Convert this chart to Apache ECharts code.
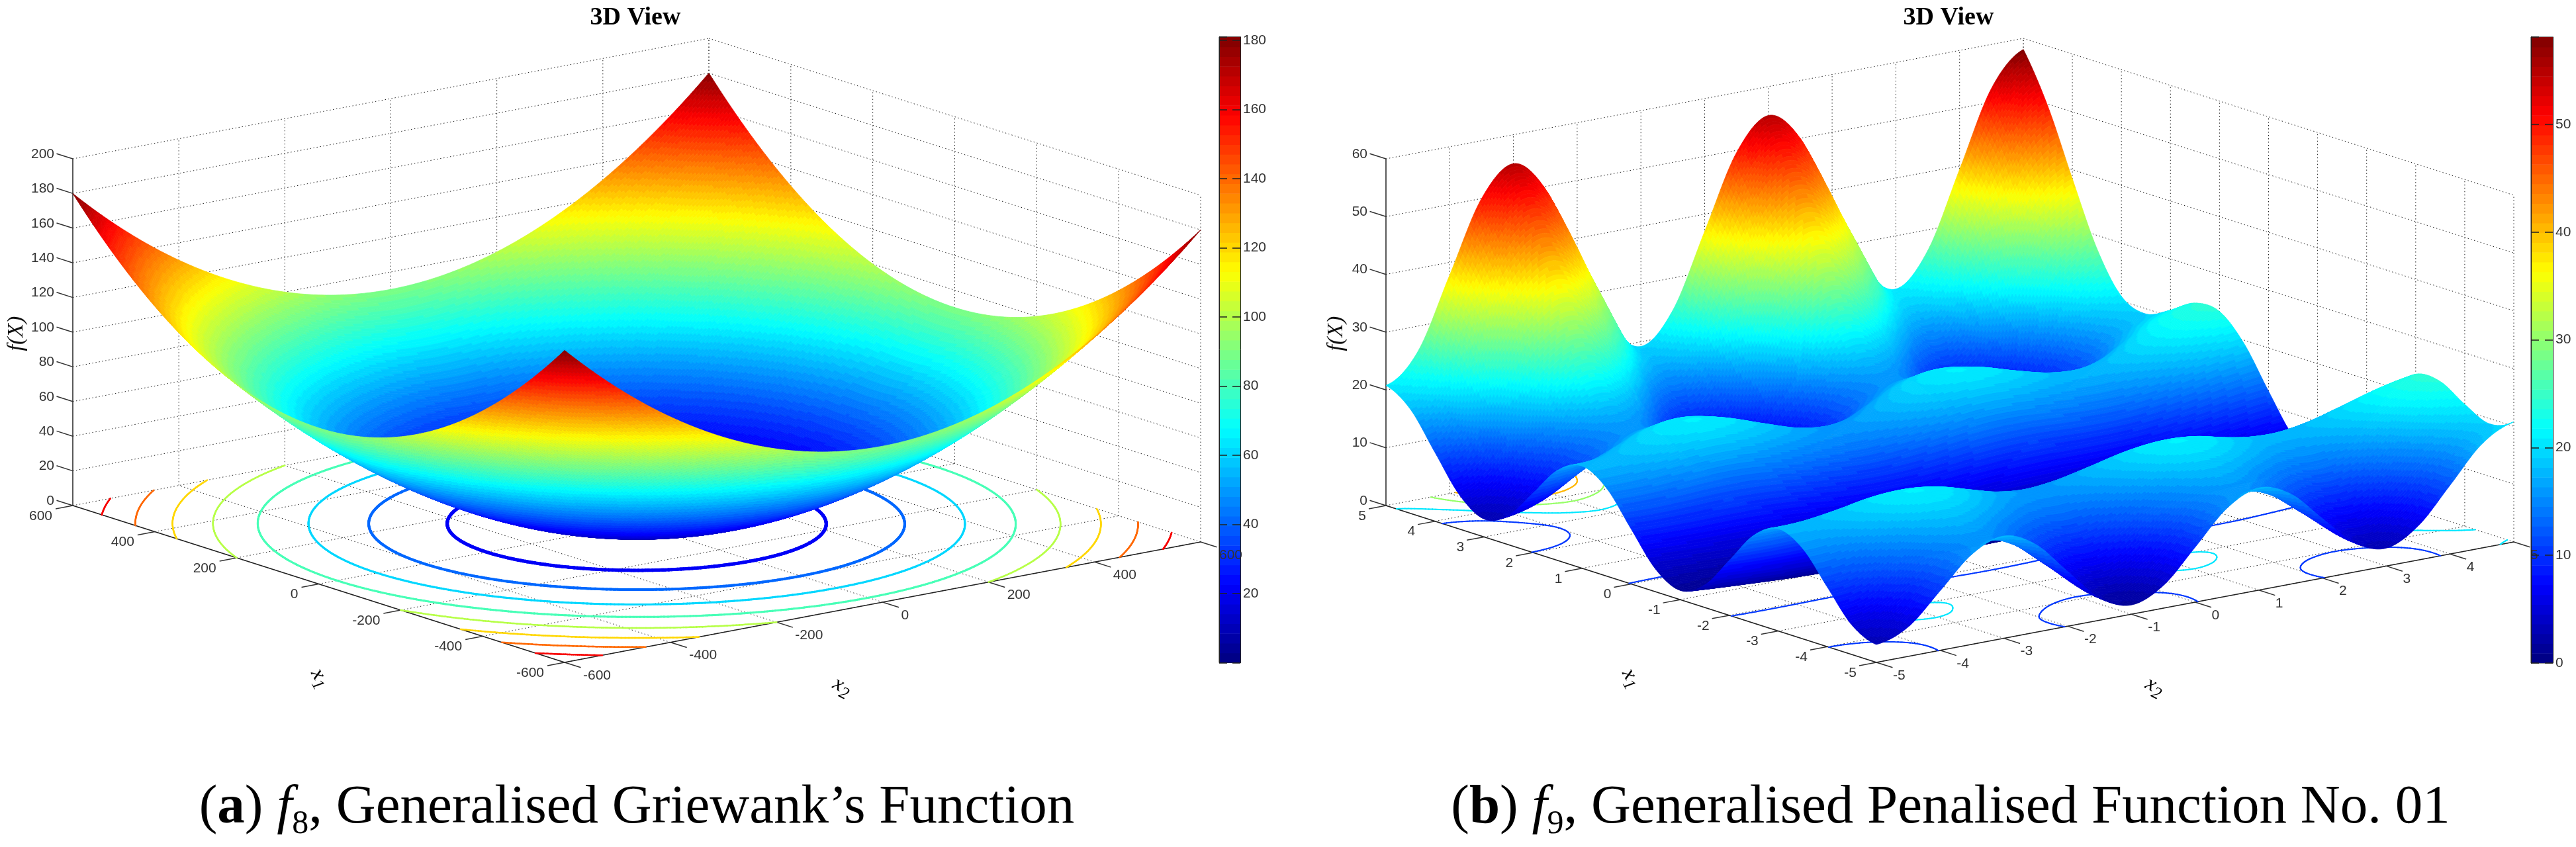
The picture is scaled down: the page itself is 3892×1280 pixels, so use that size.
<!DOCTYPE html>
<html>
<head>
<meta charset="utf-8">
<style>html,body{margin:0;padding:0;background:#fff}#c{width:3892px;height:1280px}</style>
<script src="https://cdn.jsdelivr.net/npm/echarts@6/dist/echarts.min.js"></script>
</head>
<body>
<div id="c"></div>
<script>
// ---------- chart values ----------
const f8Ticks = [-600,-400,-200,0,200,400,600];
const f8ZTicks = [0,20,40,60,80,100,120,140,160,180,200];
const f8Levels = [20,40,60,80,100,120,140,160];
const f8BarTicksMax = 181;
// rows: x1 = -600..600 step 100; columns: x2 = -600..600 step 100
const f8Values = [
[180,152.5,130,112.5,100,92.5,90,92.5,100,112.5,130,152.5,180],
[152.5,125,102.5,85,72.5,65,62.5,65,72.5,85,102.5,125,152.5],
[130,102.5,80,62.5,50,42.5,40,42.5,50,62.5,80,102.5,130],
[112.5,85,62.5,45,32.5,25,22.5,25,32.5,45,62.5,85,112.5],
[100,72.5,50,32.5,20,12.5,10,12.5,20,32.5,50,72.5,100],
[92.5,65,42.5,25,12.5,5,2.5,5,12.5,25,42.5,65,92.5],
[90,62.5,40,22.5,10,2.5,0,2.5,10,22.5,40,62.5,90],
[92.5,65,42.5,25,12.5,5,2.5,5,12.5,25,42.5,65,92.5],
[100,72.5,50,32.5,20,12.5,10,12.5,20,32.5,50,72.5,100],
[112.5,85,62.5,45,32.5,25,22.5,25,32.5,45,62.5,85,112.5],
[130,102.5,80,62.5,50,42.5,40,42.5,50,62.5,80,102.5,130],
[152.5,125,102.5,85,72.5,65,62.5,65,72.5,85,102.5,125,152.5],
[180,152.5,130,112.5,100,92.5,90,92.5,100,112.5,130,152.5,180]
];
const f9Ticks = [-5,-4,-3,-2,-1,0,1,2,3,4,5];
const f9ZTicks = [0,10,20,30,40,50,60];
const f9Levels = [10,20,30,40,50];
const f9BarTicksMax = 58.1;
// rows: x1 = -5..5 step 0.5; columns: x2 = -5..5 step 0.5
const f9Values = [
[3.1,5.1,10.3,15.6,17.7,15.2,9.5,3.9,1.6,3.9,9.5,15.2,17.7,15.6,10.3,5.1,3.1,5.9,11.9,18.0,20.8],
[5.1,6.5,10.4,14.4,15.9,14.0,9.6,5.3,3.5,5.3,9.6,14.0,15.9,14.4,10.4,6.5,5.1,7.3,12.0,16.7,19.1],
[10.3,11.2,14.0,16.9,18.0,16.5,13.3,10.1,8.7,10.1,13.3,16.5,18.0,16.9,14.0,11.2,10.3,12.0,15.6,19.3,21.1],
[15.6,16.1,18.0,19.9,20.6,19.5,17.2,14.9,14.0,14.9,17.2,19.5,20.6,19.9,18.0,16.1,15.6,16.9,19.5,22.2,23.7],
[17.7,17.9,18.9,20.1,20.4,19.7,18.2,16.7,16.1,16.7,18.2,19.7,20.4,20.1,18.9,17.9,17.7,18.7,20.5,22.4,23.6],
[15.2,15.2,15.6,16.1,16.2,15.7,14.8,14.0,13.6,14.0,14.8,15.7,16.2,16.1,15.6,15.2,15.2,15.9,17.2,18.5,19.4],
[9.5,9.3,9.3,9.4,9.3,9.0,8.5,8.1,8.0,8.1,8.5,9.0,9.3,9.4,9.3,9.3,9.5,10.1,10.9,11.8,12.5],
[3.9,3.6,3.3,3.1,3.0,2.8,2.5,2.4,2.3,2.4,2.5,2.8,3.0,3.1,3.3,3.6,3.9,4.4,4.9,5.5,6.1],
[1.6,1.2,0.9,0.6,0.4,0.2,0.1,0,0,0,0.1,0.2,0.4,0.6,0.9,1.2,1.6,2.0,2.5,3.0,3.5],
[3.9,3.6,3.3,3.1,3.0,2.8,2.5,2.4,2.3,2.4,2.5,2.8,3.0,3.1,3.3,3.6,3.9,4.4,4.9,5.5,6.1],
[9.5,9.3,9.3,9.4,9.3,9.0,8.5,8.1,8.0,8.1,8.5,9.0,9.3,9.4,9.3,9.3,9.5,10.1,10.9,11.8,12.5],
[15.2,15.2,15.6,16.1,16.2,15.7,14.8,14.0,13.6,14.0,14.8,15.7,16.2,16.1,15.6,15.2,15.2,15.9,17.2,18.5,19.4],
[17.7,17.9,18.9,20.1,20.4,19.7,18.2,16.7,16.1,16.7,18.2,19.7,20.4,20.1,18.9,17.9,17.7,18.7,20.5,22.4,23.6],
[15.6,16.1,18.0,19.9,20.6,19.5,17.2,14.9,14.0,14.9,17.2,19.5,20.6,19.9,18.0,16.1,15.6,16.9,19.5,22.2,23.7],
[10.3,11.2,14.0,16.9,18.0,16.5,13.3,10.1,8.7,10.1,13.3,16.5,18.0,16.9,14.0,11.2,10.3,12.0,15.6,19.3,21.1],
[5.1,6.5,10.4,14.4,15.9,14.0,9.6,5.3,3.5,5.3,9.6,14.0,15.9,14.4,10.4,6.5,5.1,7.3,12.0,16.7,19.1],
[3.1,5.1,10.3,15.6,17.7,15.2,9.5,3.9,1.6,3.9,9.5,15.2,17.7,15.6,10.3,5.1,3.1,5.9,11.9,18.0,20.8],
[5.9,8.4,15.1,21.9,24.6,21.5,14.3,7.2,4.3,7.2,14.3,21.5,24.6,21.9,15.1,8.4,5.9,9.2,16.7,24.2,27.7],
[11.9,15.1,23.5,31.9,35.3,31.5,22.7,13.9,10.3,13.9,22.7,31.5,35.3,31.9,23.5,15.1,11.9,15.9,25.0,34.2,38.4],
[18.0,21.9,32.1,42.3,46.5,42.0,31.3,20.8,16.4,20.8,31.3,42.0,46.5,42.3,32.1,21.9,18.0,22.7,33.7,44.7,49.6],
[20.8,25.6,37.8,50.0,55.0,49.6,37.0,24.4,19.2,24.4,37.0,49.6,55.0,50.0,37.8,25.6,20.8,26.4,39.4,52.4,58.1]
];
const f8BarLabels = [20,40,60,80,100,120,140,160,180];
const f9BarLabels = [0,10,20,30,40,50];

// ---------- view of each panel (drawing set-up, not data) ----------
const PANEL_W = 1946, H = 1280;
const panels = [
 {grid:0, offset:0, A:[110,764], B:[853,1001], C:[1814,819], zPix:524, min:-600, max:600, zTop:200,
  ticks:f8Ticks, zTicks:f8ZTicks, values:f8Values, levels:f8Levels, cMax:f8BarTicksMax, sub:24, contourW:[5,4,3,3,2.5,2.5,2.5,2.5],
  x1Lab:[-31,16], x2Lab:[28,20]},
 {grid:1, offset:PANEL_W, A:[148,764], B:[889,1001], C:[1852,819], zPix:524, min:-5, max:5, zTop:60,
  ticks:f9Ticks, zTicks:f9ZTicks, values:f9Values, levels:f9Levels, cMax:f9BarTicksMax, sub:16, contourW:[2,2,2,2,2],
  x1Lab:[-30,16], x2Lab:[25,20]}
];

function jet(i){ // MATLAB jet colormap with 64 steps
  const v = (i+0.5)/64*4;
  const c = x => Math.round(255*Math.max(0,Math.min(1,x)));
  return 'rgb('+c(Math.min(v-1.5,4.5-v))+','+c(Math.min(v-0.5,3.5-v))+','+c(Math.min(v+0.5,2.5-v))+')';
}
const jetBand = (z,m) => Math.max(0,Math.min(63,Math.floor(z/m*64)));

function proj(P,x1,x2,z){
  const s=(x1-P.min)/(P.max-P.min), t=(x2-P.min)/(P.max-P.min);
  return [P.B[0]+s*(P.A[0]-P.B[0])+t*(P.C[0]-P.B[0]),
          P.B[1]+s*(P.A[1]-P.B[1])+t*(P.C[1]-P.B[1])-z*P.zPix/P.zTop];
}

// Smooth facets for drawing: each table cell is drawn as several small facets
function cr(p0,p1,p2,p3,t){return 0.5*((2*p1)+(-p0+p2)*t+(2*p0-5*p1+4*p2-p3)*t*t+(-p0+3*p1-3*p2+p3)*t*t*t);}
function at(T,i,j){
  const n=T.length-1;
  if(i<0) return 3*at(T,0,j)-3*at(T,1,j)+at(T,2,j);
  if(i>n) return 3*at(T,n,j)-3*at(T,n-1,j)+at(T,n-2,j);
  if(j<0) return 3*T[i][0]-3*T[i][1]+T[i][2];
  if(j>n) return 3*T[i][n]-3*T[i][n-1]+T[i][n-2];
  return T[i][j];
}
function fine(P){
  const T=P.values,K=T.length-1,N=K*P.sub,out=[];
  for(let a=0;a<=N;a++){
    const ia=Math.min(K-1,Math.floor(a/P.sub)),ta=a/P.sub-ia,row=[];
    for(let b=0;b<=N;b++){
      const ib=Math.min(K-1,Math.floor(b/P.sub)),tb=b/P.sub-ib,v=[];
      for(let m=-1;m<=2;m++) v.push(cr(at(T,ia+m,ib-1),at(T,ia+m,ib),at(T,ia+m,ib+1),at(T,ia+m,ib+2),tb));
      row.push(Math.max(0,cr(v[0],v[1],v[2],v[3],ta)));
    }
    out.push(row);
  }
  P.N=N; P.Z=out;
  P.fx=i=>P.min+(P.max-P.min)*i/N;
}

function buildSurface(P){ // back-to-front rows of same-colour runs
  const N=P.N,Z=P.Z,rows=[];
  for(let r=N-1;r>=0;r--){
    const runs=[]; let cur=null;
    for(let c=N-1;c>=0;c--){
      const lv=jetBand((Z[r][c]+Z[r+1][c]+Z[r][c+1]+Z[r+1][c+1])/4,P.cMax);
      if(cur&&cur.lv===lv){cur.lo=c;} else {cur={lv:lv,hi:c+1,lo:c};runs.push(cur);}
    }
    rows.push({r:r,runs:runs});
  }
  return rows;
}
function buildContours(P){
  const N=P.N,Z=P.Z,out=[];
  P.levels.forEach((L,li)=>{
    const segs=[];
    for(let r=0;r<N;r++)for(let c=0;c<N;c++){
      const q=[[r,c],[r+1,c],[r+1,c+1],[r,c+1]],pts=[];
      for(let k=0;k<4;k++){
        const a=q[k],b=q[(k+1)%4],za=Z[a[0]][a[1]],zb=Z[b[0]][b[1]];
        if((za<L)!==(zb<L)){const t=(L-za)/(zb-za);pts.push([a[0]+t*(b[0]-a[0]),a[1]+t*(b[1]-a[1])]);}
      }
      if(pts.length===2)segs.push(pts);
      else if(pts.length===4){segs.push([pts[0],pts[1]]);segs.push([pts[2],pts[3]]);}
    }
    out.push({level:L,w:P.contourW[li],segs:segs});
  });
  return out;
}
function buildFrame(P){
  const lo=P.min,hi=P.max,top=P.zTop,ex1=0.027*(hi-lo),ex2=0.033*(hi-lo),L=[];
  const dot=(a,b)=>L.push({a:a,b:b,k:'dot'}), sol=(a,b)=>L.push({a:a,b:b,k:'sol'}), tk=(a,b)=>L.push({a:a,b:b,k:'tick'});
  P.ticks.forEach(v=>{
    dot([v,lo,0],[v,hi,0]); dot([lo,v,0],[hi,v,0]);
    if(v>lo)dot([hi,v,0],[hi,v,top]);
    dot([v,hi,0],[v,hi,top]);
  });
  P.zTicks.forEach(z=>{
    if(z>0){dot([hi,lo,z],[hi,hi,z]);dot([hi,hi,z],[lo,hi,z]);}
  });
  sol([hi,lo,0],[lo,lo,0]); sol([lo,lo,0],[lo,hi,0]); sol([hi,lo,0],[hi,lo,top]);
  P.ticks.forEach(v=>{tk([v,lo,0],[v,lo-ex1,0]); tk([lo,v,0],[lo-ex2,v,0]);});
  P.zTicks.forEach(z=>tk([hi,lo,z],[hi+ex2,lo,z]));
  return L;
}
function buildLabels(P){
  const lo=P.min,hi=P.max,L=[];
  P.ticks.forEach(v=>{
    L.push({p:[v,lo,0],dx:P.x1Lab[0],dy:P.x1Lab[1],t:String(v),al:'right'});
    L.push({p:[lo,v,0],dx:P.x2Lab[0],dy:P.x2Lab[1],t:String(v),al:'left'});
  });
  P.zTicks.forEach(z=>L.push({p:[hi,lo,z],dx:-28,dy:-7,t:String(z),al:'right'}));
  return L;
}

const series=[];
const LBL='"Liberation Sans", Arial, sans-serif';
panels.forEach(P=>{
  fine(P);
  const xy=(api,p)=>api.coord(proj(P,p[0],p[1],p[2]));
  const frame=buildFrame(P),labels=buildLabels(P),surf=buildSurface(P),cont=buildContours(P);
  const base={type:'custom',xAxisIndex:P.grid,yAxisIndex:P.grid,coordinateSystem:'cartesian2d',silent:true,animation:false,clip:false,progressive:0,tooltip:{show:false}};
  series.push(Object.assign({},base,{name:'frame',z:1,data:frame.map((_,i)=>[i,i]),renderItem:(params,api)=>{
    const l=frame[params.dataIndex];
    const st=l.k==='dot'?{stroke:'#222',lineWidth:1,lineDash:[1.5,3.5],fill:'none'}:
             l.k==='sol'?{stroke:'#222',lineWidth:1.5,fill:'none'}:{stroke:'#333',lineWidth:1.5,fill:'none'};
    return {type:'polyline',shape:{points:[xy(api,l.a),xy(api,l.b)]},style:st,silent:true};
  }}));
  series.push(Object.assign({},base,{name:'contours',z:2,data:cont.map((_,i)=>[i,i]),renderItem:(params,api)=>{
    const c=cont[params.dataIndex],col=jet(jetBand(c.level,P.cMax));
    return {type:'group',children:c.segs.map(s=>({type:'polyline',silent:true,
      shape:{points:s.map(q=>xy(api,[P.fx(q[0]),P.fx(q[1]),0]))},
      style:{stroke:col,lineWidth:c.w,lineCap:'round',fill:'none'}}))};
  }}));
  series.push(Object.assign({},base,{name:'surface',z:3,data:surf.map((_,i)=>[i,i]),renderItem:(params,api)=>{
    const row=surf[params.dataIndex],r=row.r,Z=P.Z;
    return {type:'group',children:row.runs.map(u=>{
      const pts=[];
      for(let c=u.hi;c>=u.lo;c--)pts.push(xy(api,[P.fx(r+1),P.fx(c),Z[r+1][c]]));
      for(let c=u.lo;c<=u.hi;c++)pts.push(xy(api,[P.fx(r),P.fx(c),Z[r][c]]));
      const col=jet(u.lv);
      return {type:'polygon',silent:true,shape:{points:pts},style:{fill:col,stroke:col,lineWidth:0.8}};
    })};
  }}));
  series.push(Object.assign({},base,{name:'labels',z:4,data:labels.map((_,i)=>[i,i]),renderItem:(params,api)=>{
    const l=labels[params.dataIndex],q=xy(api,[l.p[0],l.p[1],l.p[2]]);
    return {type:'text',silent:true,style:{x:q[0]+l.dx,y:q[1]+l.dy,text:l.t,align:l.al,verticalAlign:'middle',fill:'#333',fontSize:21,fontFamily:LBL}};
  }}));
});

// colour bars
const bars=[
 {grid:2,left:1842,width:32,top:55.8,bottom:1001.5,max:f8BarTicksMax,labels:f8BarLabels,interval:20},
 {grid:3,left:3824,width:33,top:56,bottom:1002,max:f9BarTicksMax,labels:f9BarLabels,interval:10}
];
const bandIdx=[];for(let i=0;i<64;i++)bandIdx.push(i);
const grids=[
 {left:0,top:0,width:PANEL_W,height:H,show:false},
 {left:PANEL_W,top:0,width:PANEL_W,height:H,show:false}
];
const xAxes=[
 {gridIndex:0,type:'value',min:0,max:PANEL_W,show:false},
 {gridIndex:1,type:'value',min:0,max:PANEL_W,show:false}
];
const yAxes=[
 {gridIndex:0,type:'value',min:0,max:H,inverse:true,show:false},
 {gridIndex:1,type:'value',min:0,max:H,inverse:true,show:false}
];
bars.forEach(b=>{
  grids.push({left:b.left,top:b.top,width:b.width,height:b.bottom-b.top,show:true,borderColor:'#222',borderWidth:1,backgroundColor:'transparent'});
  xAxes.push({gridIndex:b.grid,type:'value',min:0,max:1,show:false});
  const idx=yAxes.length;
  yAxes.push({gridIndex:b.grid,type:'value',position:'right',min:0,max:b.max,interval:b.interval,z:6,
    axisLine:{show:true,onZero:false,lineStyle:{color:'#222'}},
    axisTick:{show:true,inside:true,length:12,lineStyle:{color:'#222',width:1.5}},
    splitLine:{show:false},
    axisLabel:{show:true,margin:4,color:'#333',fontSize:21,fontFamily:LBL,showMaxLabel:false,
      formatter:v=>b.labels.indexOf(v)>=0?String(v):''}});
  yAxes.push({gridIndex:b.grid,type:'value',position:'left',min:0,max:b.max,interval:b.interval,z:6,
    axisLine:{show:true,onZero:false,lineStyle:{color:'#222'}},
    axisTick:{show:true,inside:true,length:12,lineStyle:{color:'#222',width:1.5}},
    splitLine:{show:false},axisLabel:{show:false}});
  series.push({type:'custom',name:'colorbar',coordinateSystem:'cartesian2d',xAxisIndex:b.grid,yAxisIndex:idx,
    silent:true,animation:false,clip:true,z:3,data:bandIdx.map(i=>[0,i]),
    renderItem:(params,api)=>{
      const i=params.dataIndex,p0=api.coord([0,i/64*b.max]),p1=api.coord([1,(i+1)/64*b.max]);
      return {type:'rect',silent:true,shape:{x:p0[0],y:p1[1],width:p1[0]-p0[0],height:p0[1]-p1[1]+0.6},style:{fill:jet(i)}};
    }});
});

const SERIF='"Liberation Serif", "Times New Roman", serif';
const capRich={
  n:{fontFamily:SERIF,fontSize:83,fontWeight:'normal',color:'#000',padding:[0,0,8,0]},
  b:{fontFamily:SERIF,fontSize:83,fontWeight:'bold',color:'#000',padding:[0,0,8,0]},
  i:{fontFamily:SERIF,fontSize:83,fontWeight:'normal',fontStyle:'italic',color:'#000',padding:[0,0,8,0]},
  s:{fontFamily:SERIF,fontSize:50,fontWeight:'normal',color:'#000',verticalAlign:'bottom'}
};
const titleStyle={fontFamily:SERIF,fontSize:38,fontWeight:'bold',color:'#000'};
const axRich={
  v:{fontFamily:SERIF,fontSize:32,fontStyle:'italic',color:'#111',padding:[0,0,6,0]},
  u:{fontFamily:SERIF,fontSize:26,fontStyle:'italic',color:'#111',verticalAlign:'bottom'}
};
function axisText(x,y,text,rot,rich,style){
  return {type:'text',x:x,y:y,rotation:rot*Math.PI/180,silent:true,
    style:Object.assign({text:text,align:'center',verticalAlign:'middle',rich:rich},style||{})};
}
const option={
  animation:false,backgroundColor:'#fff',
  title:[
    {text:'3D View',left:960,top:8,textAlign:'center',padding:0,textStyle:titleStyle},
    {text:'3D View',left:2944,top:8,textAlign:'center',padding:0,textStyle:titleStyle},
    {text:'{n|(}{b|a}{n|) }{i|f}{s|8}{n|, Generalised Griewank\u2019s Function}',left:962,top:1180,textAlign:'center',padding:0,textStyle:{fontWeight:'normal',rich:capRich}},
    {text:'{n|(}{b|b}{n|) }{i|f}{s|9}{n|, Generalised Penalised Function No. 01}',left:2947,top:1180,textAlign:'center',padding:0,textStyle:{fontWeight:'normal',rich:capRich}}
  ],
  grid:grids,xAxis:xAxes,yAxis:yAxes,series:series,
  graphic:[
    axisText(25,504,'f(X)',90,null,{fontFamily:SERIF,fontStyle:'italic',fontSize:34,fill:'#111'}),
    axisText(2019,504,'f(X)',90,null,{fontFamily:SERIF,fontStyle:'italic',fontSize:34,fill:'#111'}),
    axisText(481,1026,'{v|x}{u|1}',-60,axRich),
    axisText(1271,1040,'{v|x}{u|2}',-27,axRich),
    axisText(2462,1026,'{v|x}{u|1}',-60,axRich),
    axisText(3254,1040,'{v|x}{u|2}',-27,axRich)
  ]
};
const chart=echarts.init(document.getElementById('c'),null,{renderer:'canvas',width:3892,height:1280});
chart.setOption(option);
</script>
</body>
</html>
